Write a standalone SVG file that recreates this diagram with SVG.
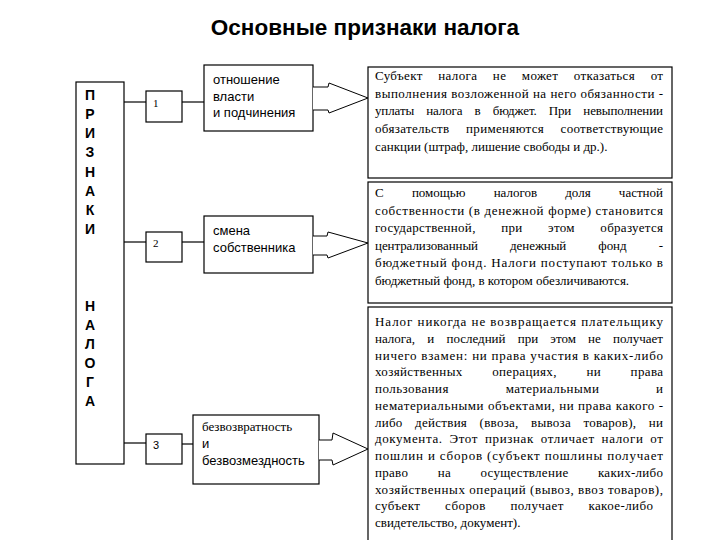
<svg xmlns="http://www.w3.org/2000/svg" width="720" height="540" viewBox="0 0 720 540">
<style>
.box{fill:#fff;stroke:#000;stroke-width:1.2}
.ln{stroke:#000;stroke-width:1.2;fill:none}
.arr{fill:#fff;stroke:#000;stroke-width:1}
.sans{font-family:"Liberation Sans",Arial,sans-serif;font-size:13px;fill:#000}
.ser{font-family:"Liberation Serif","Times New Roman",serif;font-size:13px;fill:#000}
.big{font-family:"Liberation Sans",Arial,sans-serif;font-size:14px;font-weight:bold;fill:#000;text-anchor:middle}
.num{font-family:"Liberation Serif","Times New Roman",serif;font-size:11px;fill:#000}
</style>
<rect width="720" height="540" fill="#fff"/>
<text id="title" x="365" y="35" font-family="'Liberation Sans',Arial,sans-serif" font-size="22.5" font-weight="bold" text-anchor="middle">Основные признаки налога</text>

<g id="connectors">
<line class="ln" x1="124" y1="102" x2="146" y2="102"/>
<line class="ln" x1="124" y1="242" x2="146" y2="242"/>
<line class="ln" x1="124" y1="443" x2="146" y2="443"/>
<line class="ln" x1="182" y1="102" x2="204" y2="102"/>
<line class="ln" x1="182" y1="242" x2="204" y2="242"/>
<line class="ln" x1="182" y1="444" x2="193" y2="444"/>
</g>

<g id="main">
<rect class="box" x="76" y="82" width="48" height="382"/>
<text class="big" x="90" y="100">П</text>
<text class="big" x="90" y="119">Р</text>
<text class="big" x="90" y="138">И</text>
<text class="big" x="90" y="157">З</text>
<text class="big" x="90" y="177">Н</text>
<text class="big" x="90" y="196">А</text>
<text class="big" x="90" y="215">К</text>
<text class="big" x="90" y="234">И</text>
<text class="big" x="90" y="311">Н</text>
<text class="big" x="90" y="330">А</text>
<text class="big" x="90" y="349">Л</text>
<text class="big" x="90" y="368">О</text>
<text class="big" x="90" y="387">Г</text>
<text class="big" x="90" y="406">А</text>
</g>

<g id="n1"><rect class="box" x="146" y="91" width="36" height="31"/><text class="num" x="153" y="107">1</text></g>
<g id="n2"><rect class="box" x="146" y="232" width="36" height="30"/><text class="num" x="153" y="247">2</text></g>
<g id="n3"><rect class="box" x="146" y="434" width="36" height="30"/><text class="sans" x="153" y="449" style="font-size:11px">3</text></g>

<g id="f1">
<rect class="box" x="204" y="65" width="109" height="66"/>
<path class="arr" d="M313,87 L328,87 L329,83 L368,98 L329,113 L328,110 L313,110"/>
<text class="sans" x="213" y="84">отношение</text>
<text class="sans" x="213" y="100.5">власти</text>
<text class="sans" x="213" y="117">и подчинения</text>
</g>

<g id="f2">
<rect class="box" x="204" y="216" width="109" height="57"/>
<path class="arr" d="M313,236 L327,236 L328,232 L368,243 L328,258 L327,255 L313,255"/>
<text class="sans" x="213" y="235">смена</text>
<text class="sans" x="213" y="251.5">собственника</text>
</g>

<g id="f3">
<rect class="box" x="193" y="415" width="126" height="69"/>
<path class="arr" d="M319,440 L332,440 L333,433 L368,449 L333,465 L332,460 L319,460"/>
<text class="ser" x="202" y="430.5">безвозвратность</text>
<text class="sans" x="202" y="447.5">и</text>
<text class="sans" x="202" y="465">безвозмездность</text>
</g>

<g id="d1">
<rect class="box" x="368" y="67" width="304" height="111"/>
<text class="ser" x="375" y="80" word-spacing="12" textLength="288" lengthAdjust="spacing">Субъект налога не может отказаться от</text>
<text class="ser" x="375" y="97.7" textLength="288" lengthAdjust="spacing">выполнения возложенной на него обязанности -</text>
<text class="ser" x="375" y="115.4" word-spacing="9" textLength="288" lengthAdjust="spacing">уплаты налога в бюджет. При невыполнении</text>
<text class="ser" x="375" y="133" word-spacing="13" textLength="288" lengthAdjust="spacing">обязательств применяются соответствующие</text>
<text class="ser" x="375" y="150.8">санкции (штраф, лишение свободы и др.).</text>
</g>

<g id="d2">
<rect class="box" x="368" y="182" width="304" height="121"/>
<text class="ser" x="375" y="197" word-spacing="25" textLength="288" lengthAdjust="spacing">С помощью налогов доля частной</text>
<text class="ser" x="375" y="214.5" textLength="288" lengthAdjust="spacing">собственности (в денежной форме) становится</text>
<text class="ser" x="375" y="232" word-spacing="22" textLength="288" lengthAdjust="spacing">государственной, при этом образуется</text>
<text class="ser" x="375" y="249.5" word-spacing="29" textLength="288" lengthAdjust="spacing">централизованный денежный фонд -</text>
<text class="ser" x="375" y="267" textLength="288" lengthAdjust="spacing">бюджетный фонд. Налоги поступают только в</text>
<text class="ser" x="375" y="284.5">бюджетный фонд, в котором обезличиваются.</text>
</g>

<g id="d3">
<rect class="box" x="368" y="307" width="304" height="240"/>
<text class="ser" x="375" y="326" textLength="288" lengthAdjust="spacing">Налог никогда не возвращается плательщику</text>
<text class="ser" x="375" y="342.75" word-spacing="9" textLength="288" lengthAdjust="spacing">налога, и последний при этом не получает</text>
<text class="ser" x="375" y="359.5" textLength="288" lengthAdjust="spacing">ничего взамен: ни права участия в каких-либо</text>
<text class="ser" x="375" y="376.25" word-spacing="26" textLength="288" lengthAdjust="spacing">хозяйственных операциях, ни права</text>
<text class="ser" x="375" y="393" word-spacing="53" textLength="288" lengthAdjust="spacing">пользования материальными и</text>
<text class="ser" x="375" y="409.75" textLength="288" lengthAdjust="spacing">нематериальными объектами, ни права какого -</text>
<text class="ser" x="375" y="426.5" word-spacing="9" textLength="288" lengthAdjust="spacing">либо действия (ввоза, вывоза товаров), ни</text>
<text class="ser" x="375" y="443.25" word-spacing="3" textLength="288" lengthAdjust="spacing">документа. Этот признак отличает налоги от</text>
<text class="ser" x="375" y="460" textLength="288" lengthAdjust="spacing">пошлин и сборов (субъект пошлины получает</text>
<text class="ser" x="375" y="476.75" word-spacing="26" textLength="288" lengthAdjust="spacing">право на осуществление каких-либо</text>
<text class="ser" x="375" y="493.5" textLength="288" lengthAdjust="spacing">хозяйственных операций (вывоз, ввоз товаров),</text>
<text class="ser" x="375" y="510.25" word-spacing="21" textLength="278" lengthAdjust="spacing">субъект сборов получает какое-либо</text>
<text class="ser" x="375" y="527">свидетельство, документ).</text>
</g>
</svg>
